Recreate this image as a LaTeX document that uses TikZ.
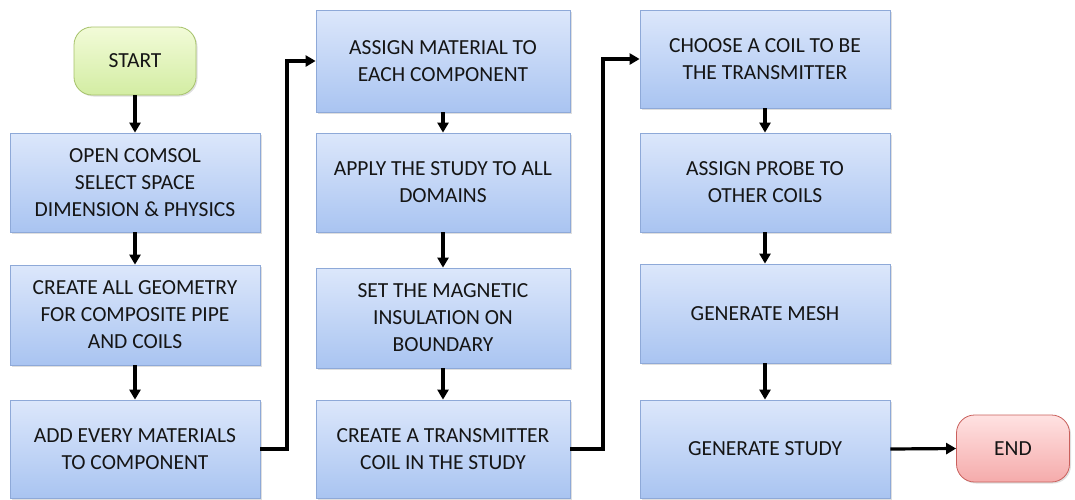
\documentclass[tikz,border=0pt]{standalone}
\usepackage{fontspec}
\setmainfont{Carlito}
\usetikzlibrary{arrows.meta,shadows}
\definecolor{boxtop}{HTML}{DCE7FB}
\definecolor{boxbot}{HTML}{A9C4F1}
\definecolor{boxline}{HTML}{8EA9D8}
\definecolor{gtop}{HTML}{F2FBD8}
\definecolor{gbot}{HTML}{D3EDA3}
\definecolor{gline}{HTML}{A6C26A}
\definecolor{rtop}{HTML}{FFE2E2}
\definecolor{rbot}{HTML}{F5ABAB}
\definecolor{rline}{HTML}{C9605C}
\definecolor{txt}{HTML}{151515}
\tikzset{
  x=1pt,y=-1pt,
  stepbox/.style={draw=boxline,line width=0.8pt,top color=boxtop,bottom color=boxbot,
    minimum width=250pt,align=center,font=\fontsize{21.5}{27}\selectfont,text=txt,
    inner sep=2pt,drop shadow={shadow xshift=1.5pt,shadow yshift=-1.5pt,opacity=0.25}},
  termbox/.style={rounded corners=18pt,line width=0.8pt,align=center,
    font=\fontsize{21.5}{27}\selectfont,text=txt,
    drop shadow={shadow xshift=1.5pt,shadow yshift=-1.5pt,opacity=0.25}},
  flow/.style={line width=3.2pt,-{Triangle[length=10pt,width=11pt]}}
}
\begin{document}
\begin{tikzpicture}
\useasboundingbox (0,0) rectangle (1075,499);
\node[termbox,draw=gline,top color=gtop,bottom color=gbot,minimum width=122pt,minimum height=68pt] (start) at (135,61) {START};
\node[stepbox,minimum height=99pt] (a1) at (135,182.5) {OPEN COMSOL\\SELECT SPACE\\DIMENSION \& PHYSICS};
\node[stepbox,minimum height=100pt] (a2) at (135,315) {CREATE ALL GEOMETRY\\FOR COMPOSITE PIPE\\AND COILS};
\node[stepbox,minimum height=98pt] (a3) at (135,449) {ADD EVERY MATERIALS\\TO COMPONENT};
\node[stepbox,minimum width=254pt,minimum height=102pt] (b1) at (443,61) {ASSIGN MATERIAL TO\\EACH COMPONENT};
\node[stepbox,minimum width=254pt,minimum height=99pt] (b2) at (443,182.5) {APPLY THE STUDY TO ALL\\DOMAINS};
\node[stepbox,minimum width=254pt,minimum height=100pt] (b3) at (443,318) {SET THE MAGNETIC\\INSULATION ON\\BOUNDARY};
\node[stepbox,minimum width=254pt,minimum height=98pt] (b4) at (443,449) {CREATE A TRANSMITTER\\COIL IN THE STUDY};
\node[stepbox,minimum height=98pt] (c1) at (765,59) {CHOOSE A COIL TO BE\\THE TRANSMITTER};
\node[stepbox,minimum height=99pt] (c2) at (765,182.5) {ASSIGN PROBE TO\\OTHER COILS};
\node[stepbox,minimum height=99pt] (c3) at (765,313.5) {GENERATE MESH};
\node[stepbox,minimum height=98pt] (c4) at (765,449) {GENERATE STUDY};
\node[termbox,draw=rline,top color=rtop,bottom color=rbot,minimum width=113pt,minimum height=67pt] (end) at (1013,448.5) {END};
\draw[flow] (start) -- (a1);
\draw[flow] (a1) -- (a2);
\draw[flow] (a2) -- (a3);
\coordinate (k1) at (287,449);
\draw[flow] (a3.east) -- (k1) |- (b1.west);
\draw[flow] (b1) -- (b2);
\draw[flow] (b2) -- (b3);
\draw[flow] (b3) -- (b4);
\coordinate (k2) at (603,449);
\draw[flow] (b4.east) -- (k2) |- (c1.west);
\draw[flow] (c1) -- (c2);
\draw[flow] (c2) -- (c3);
\draw[flow] (c3) -- (c4);
\draw[flow] (c4.east) -- (end.west);
\end{tikzpicture}
\end{document}
